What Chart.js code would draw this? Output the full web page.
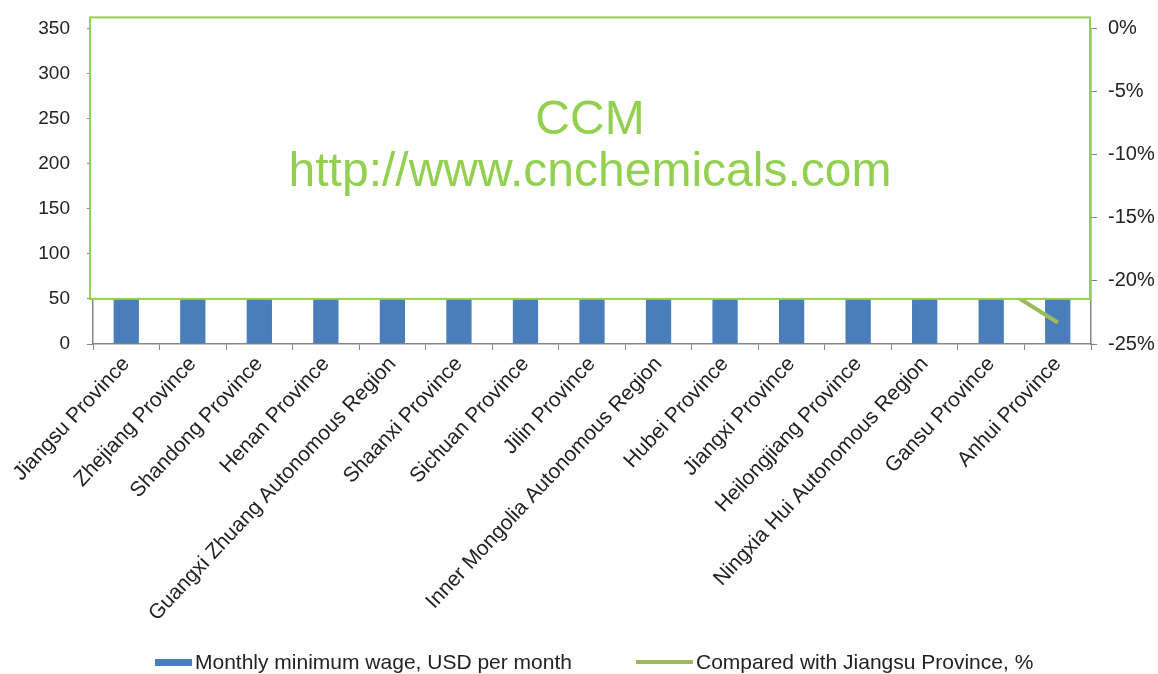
<!DOCTYPE html>
<html>
<head>
<meta charset="utf-8">
<script src="https://cdn.jsdelivr.net/npm/chart.js@4/dist/chart.umd.min.js"></script>
<style>
  html,body{margin:0;padding:0;background:#fff;}
  #wrap{position:relative;width:1158px;height:674px;}
  #legend{position:absolute;left:0;top:650px;width:1158px;height:24px;
    font:21px "Liberation Sans", Arial, sans-serif;color:#222;}
  .item{position:absolute;top:0;display:flex;align-items:center;height:24px;white-space:nowrap;}
  .swatch{display:inline-block;margin-right:3px;}
</style>
</head>
<body>
<div id="wrap">
  <canvas id="chart"></canvas>
  <div id="legend"></div>
</div>
<script>
// DATA
const provinces = [
  "Jiangsu Province","Zhejiang Province","Shandong Province","Henan Province",
  "Guangxi Zhuang Autonomous Region","Shaanxi Province","Sichuan Province","Jilin Province",
  "Inner Mongolia Autonomous Region","Hubei Province","Jiangxi Province","Heilongjiang Province",
  "Ningxia Hui Autonomous Region","Gansu Province","Anhui Province"
];
// USD per month (tops hidden behind the watermark box, estimated)
const wageUSD = [239, 237, 223, 221, 219, 218, 216, 213, 211, 210, 207, 200, 194, 191, 183];
// % compared with Jiangsu
const vsJiangsu = [0, -0.7, -6.8, -7.4, -8.1, -8.8, -9.5, -10.8, -11.5, -12.2, -13.5, -16.2, -18.9, -20.0, -23.3];
const wageTicks = [0, 50, 100, 150, 200, 250, 300, 350];
const pctTicks = [-25, -20, -15, -10, -5, 0];
const seriesNames = ["Monthly minimum wage, USD per month", "Compared with Jiangsu Province, %"];

const FONT = '"Liberation Sans", Arial, sans-serif';
const AXIS = '#868686';
const BLUE = '#4a7ebb', GREEN = '#9bbb59';

// white watermark box over the upper plot
const watermark = {
  id: 'watermark',
  afterDraw(chart){
    const {ctx, chartArea, scales} = chart;
    const left = chartArea.left - 3, right = chartArea.right - 1;
    const top = chartArea.top - 11, bottom = scales.y.getPixelForValue(50);
    const cx = (left + right) / 2;
    ctx.save();
    ctx.fillStyle = '#fff';
    ctx.fillRect(left, top, right - left, bottom - top);
    ctx.strokeStyle = '#92d050';
    ctx.lineWidth = 2;
    ctx.strokeRect(left, top, right - left, bottom - top);
    ctx.fillStyle = '#92d050';
    ctx.textAlign = 'center';
    ctx.textBaseline = 'alphabetic';
    ctx.font = '48px ' + FONT;
    ctx.fillText('CCM', cx, top + 117);
    ctx.fillText('http://www.cnchemicals.com', cx, top + 169);
    ctx.restore();
  }
};

new Chart(document.getElementById('chart'), {
  type: 'bar',
  data: {
    labels: provinces,
    datasets: [
      {
        label: seriesNames[0],
        data: wageUSD,
        backgroundColor: BLUE,
        borderWidth: 0,
        barPercentage: 0.38,
        categoryPercentage: 1,
        yAxisID: 'y',
        order: 1
      },
      {
        type: 'line',
        label: seriesNames[1],
        data: vsJiangsu,
        borderColor: GREEN,
        backgroundColor: GREEN,
        borderWidth: 4,
        pointRadius: 0,
        tension: 0,
        yAxisID: 'y1',
        order: 0
      }
    ]
  },
  options: {
    responsive: true,
    maintainAspectRatio: false,
    animation: false,
    layout: { padding: { top: 16, left: 0, right: 0, bottom: 36 } },
    plugins: {
      tooltip: { enabled: false },
      legend: { display: false }
    },
    scales: {
      x: {
        afterFit(axis){ axis.height = 294; },
        grid: { drawOnChartArea: false, color: AXIS, tickLength: 6, offset: true },
        border: { color: AXIS, width: 1.5 },
        ticks: {
          autoSkip: false, minRotation: 47, maxRotation: 47, padding: 2,
          color: '#222', font: { family: FONT, size: 21 }
        }
      },
      y: {
        position: 'left',
        min: 0, max: 350,
        afterFit(axis){ axis.width = 93; },
        afterBuildTicks(axis){ axis.ticks = wageTicks.map(v => ({value: v})); },
        grid: { drawOnChartArea: false, color: AXIS, tickLength: 6 },
        border: { color: AXIS, width: 1.5 },
        ticks: { padding: 17, color: '#222', font: { family: FONT, size: 19 } }
      },
      y1: {
        position: 'right',
        min: -25, max: 0,
        afterFit(axis){ axis.width = 67; },
        afterBuildTicks(axis){ axis.ticks = pctTicks.map(v => ({value: v})); },
        grid: { drawOnChartArea: false, color: AXIS, tickLength: 6 },
        border: { color: AXIS, width: 1.5 },
        ticks: {
          padding: 11, color: '#222', font: { family: FONT, size: 20 },
          callback: v => v + '%'
        }
      }
    }
  },
  plugins: [watermark]
});

// LEGEND (html)
const legend = document.getElementById('legend');
legend.innerHTML = `
  <div class="item" style="left:155px">
    <span class="swatch" style="width:37px;height:7px;background:${BLUE}"></span>${seriesNames[0]}</div>
  <div class="item" style="left:636px">
    <span class="swatch" style="width:57px;height:4px;background:${GREEN}"></span>${seriesNames[1]}</div>`;
</script>
</body>
</html>
